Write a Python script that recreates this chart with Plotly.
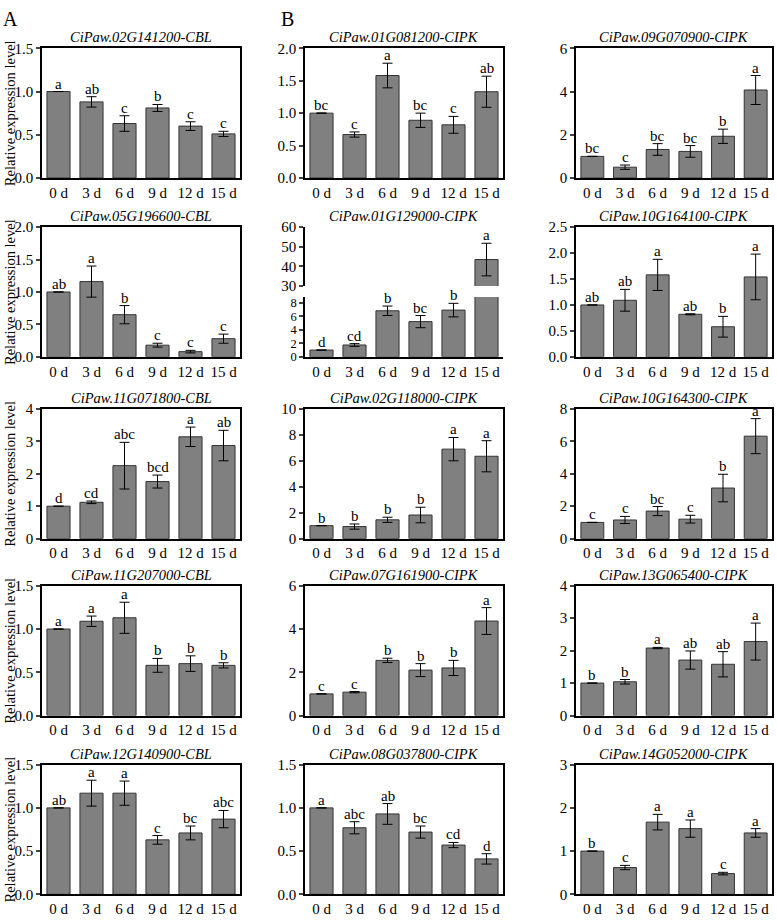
import plotly.graph_objects as go

W, H = 777, 922
days = ["0 d", "3 d", "6 d", "9 d", "12 d", "15 d"]

names = [
    "CiPaw.02G141200-CBL", "CiPaw.05G196600-CBL", "CiPaw.11G071800-CBL",
    "CiPaw.11G207000-CBL", "CiPaw.12G140900-CBL",
    "CiPaw.01G081200-CIPK", "CiPaw.01G129000-CIPK", "CiPaw.02G118000-CIPK",
    "CiPaw.07G161900-CIPK", "CiPaw.08G037800-CIPK",
    "CiPaw.09G070900-CIPK", "CiPaw.10G164100-CIPK", "CiPaw.10G164300-CIPK",
    "CiPaw.13G065400-CIPK", "CiPaw.14G052000-CIPK",
]

means = [
    [1.0, 0.88, 0.63, 0.81, 0.60, 0.51],
    [1.0, 1.16, 0.65, 0.18, 0.08, 0.28],
    [1.0, 1.12, 2.25, 1.76, 3.14, 2.87],
    [1.0, 1.09, 1.13, 0.58, 0.60, 0.58],
    [1.0, 1.17, 1.17, 0.63, 0.71, 0.87],
    [1.0, 0.67, 1.58, 0.89, 0.82, 1.33],
    [1.0, 1.75, 6.8, 5.2, 6.9, 43.5],
    [1.0, 0.93, 1.45, 1.82, 6.9, 6.35],
    [1.0, 1.08, 2.55, 2.1, 2.2, 4.37],
    [1.0, 0.77, 0.93, 0.72, 0.57, 0.41],
    [1.0, 0.50, 1.32, 1.23, 1.93, 4.07],
    [1.0, 1.09, 1.58, 0.82, 0.58, 1.54],
    [1.0, 1.15, 1.70, 1.20, 3.12, 6.32],
    [1.0, 1.04, 2.08, 1.71, 1.58, 2.28],
    [1.0, 0.62, 1.67, 1.52, 0.48, 1.42],
]

errs = [
    [0.0, 0.06, 0.09, 0.04, 0.05, 0.03],
    [0.0, 0.24, 0.14, 0.03, 0.02, 0.07],
    [0.0, 0.04, 0.72, 0.20, 0.30, 0.47],
    [0.0, 0.06, 0.18, 0.08, 0.09, 0.03],
    [0.0, 0.15, 0.14, 0.05, 0.08, 0.10],
    [0.0, 0.04, 0.19, 0.11, 0.13, 0.24],
    [0.0, 0.20, 0.70, 0.90, 1.00, 8.3],
    [0.0, 0.20, 0.20, 0.60, 0.90, 1.20],
    [0.0, 0.03, 0.10, 0.30, 0.35, 0.62],
    [0.0, 0.07, 0.12, 0.07, 0.03, 0.06],
    [0.0, 0.10, 0.27, 0.27, 0.33, 0.67],
    [0.0, 0.21, 0.30, 0.01, 0.20, 0.44],
    [0.0, 0.22, 0.28, 0.24, 0.85, 1.08],
    [0.0, 0.07, 0.02, 0.28, 0.39, 0.57],
    [0.0, 0.05, 0.18, 0.20, 0.03, 0.10],
]

letters = [
    ["a", "ab", "c", "b", "c", "c"],
    ["ab", "a", "b", "c", "c", "c"],
    ["d", "cd", "abc", "bcd", "a", "ab"],
    ["a", "a", "a", "b", "b", "b"],
    ["ab", "a", "a", "c", "bc", "abc"],
    ["bc", "c", "a", "bc", "c", "ab"],
    ["d", "cd", "b", "bc", "b", "a"],
    ["b", "b", "b", "b", "a", "a"],
    ["c", "c", "b", "b", "b", "a"],
    ["a", "abc", "ab", "bc", "cd", "d"],
    ["bc", "c", "bc", "bc", "b", "a"],
    ["ab", "ab", "a", "ab", "b", "a"],
    ["c", "c", "bc", "c", "b", "a"],
    ["b", "b", "a", "ab", "ab", "a"],
    ["b", "c", "a", "a", "c", "a"],
]

ymax = [1.5, 2.0, 4, 1.5, 1.5, 2.0, 8.85, 10, 6, 1.5, 6, 2.5, 8, 4, 3]
dticks = [0.5, 0.5, 1, 0.5, 0.5, 0.5, 2, 2, 2, 0.5, 2, 0.5, 2, 1, 1]
broken_idx = 6
broken_upper_range = [30, 60]
broken_upper_dtick = 10

# geometry in pixels
colx = [(42, 240), (305, 503), (576, 772)]
rowy = [(41, 173), (223, 355), (408, 540), (588, 720), (770, 902)]

FONT = "Liberation Serif, Times New Roman, serif"
BAR = "#808080"
TICKFONT = dict(size=15, family=FONT, color="black")


def px_x(p):
    return p / W


def px_y(p):
    return 1 - p / H


fig = go.Figure()
layout = dict(
    width=W, height=H, margin=dict(l=0, r=0, t=0, b=0),
    plot_bgcolor="white", paper_bgcolor="white",
    showlegend=False, font=dict(family=FONT, size=14, color="black"),
)
annotations = []

for i, name in enumerate(names):
    col, row = i // 5, i % 5
    n = i + 1
    xa, ya = f"xaxis{n}", f"yaxis{n}"
    xr, yr = f"x{n}", f"y{n}"
    x0, x1 = colx[col]
    top, bot = rowy[row]
    fmt = ".1f" if dticks[i] < 1 else "d"
    box = i != broken_idx

    layout[xa] = dict(
        domain=[px_x(x0), px_x(x1)], anchor=yr, showline=True, linecolor="black",
        linewidth=1.5, mirror=box, ticks="", showgrid=False, zeroline=False,
        tickfont=TICKFONT, type="category",
    )
    yaxis_common = dict(
        anchor=xr, showline=True, linecolor="black", linewidth=1.5,
        ticks="outside", ticklen=4, tickwidth=1.5, showgrid=False,
        zeroline=False,
    )
    if i == broken_idx:
        lower_top = 294
        upper_bot = 283
        layout[ya] = dict(
            domain=[px_y(bot), px_y(lower_top)], range=[0, ymax[i]],
            dtick=dticks[i], tick0=0, tickformat=fmt,
            tickfont=dict(size=12.5, family=FONT, color="black"), **yaxis_common,
        )
        un = 16
        layout[f"yaxis{un}"] = dict(
            domain=[px_y(upper_bot), px_y(top)], range=broken_upper_range,
            dtick=broken_upper_dtick, tick0=30, tickformat="d",
            tickfont=TICKFONT, **yaxis_common,
        )
        yrefs = (yr, f"y{un}")
    else:
        layout[ya] = dict(
            domain=[px_y(bot), px_y(top)], range=[0, ymax[i]], mirror=True,
            dtick=dticks[i], tick0=0, tickformat=fmt, tickfont=TICKFONT,
            **yaxis_common,
        )
        yrefs = (yr,)

    for yy in yrefs:
        fig.add_trace(go.Bar(
            x=days, y=means[i], xaxis=xr, yaxis=yy, width=0.7,
            marker=dict(color=BAR, line=dict(color="#333333", width=1)),
            error_y=dict(type="data", array=errs[i], color="black", thickness=1, width=5),
            hoverinfo="skip",
        ))
    for k, d in enumerate(days):
        yref = yrefs[-1] if (i == broken_idx and means[i][k] > 30) else yr
        annotations.append(dict(
            x=d, y=means[i][k] + errs[i][k], xref=xr, yref=yref, text=letters[i][k],
            showarrow=False, yanchor="bottom", yshift=-2,
            font=dict(size=15, family=FONT),
        ))

    # panel title
    annotations.append(dict(
        x=px_x((x0 + x1) / 2), y=px_y(top - 1), xref="paper", yref="paper",
        text=f"<i>{name}</i>", showarrow=False, yanchor="bottom", xanchor="center",
        font=dict(size=14.5, family=FONT),
    ))
    if col == 0:
        annotations.append(dict(
            x=px_x(10), y=px_y((top + bot) / 2), xref="paper", yref="paper",
            text="Relative expression level", textangle=-90, showarrow=False,
            xanchor="center", yanchor="middle", font=dict(size=14.5, family=FONT),
        ))

for lab, lx in (("A", 10), ("B", 287)):
    annotations.append(dict(
        x=px_x(lx), y=px_y(11), xref="paper", yref="paper", text=lab,
        showarrow=False, xanchor="center", yanchor="middle",
        font=dict(size=20, family=FONT),
    ))

layout["annotations"] = annotations
fig.update_layout(**layout)
fig.write_html("out.html", config={"displayModeBar": False},
               post_script="document.body.style.margin='0';")
